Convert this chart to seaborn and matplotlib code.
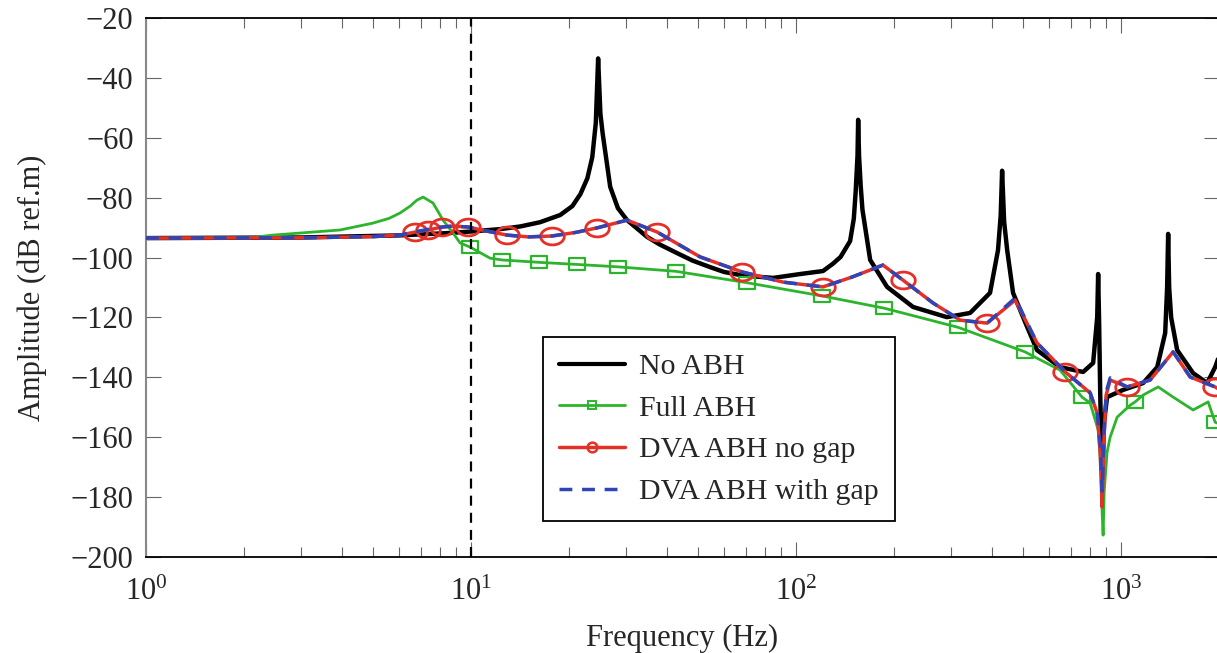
import matplotlib
matplotlib.use("Agg")
import matplotlib.pyplot as plt
import numpy as np
import seaborn as sns
from matplotlib.lines import Line2D
from matplotlib.path import Path
from matplotlib.ticker import LogLocator, NullFormatter

# --- data ---
freq_no_abh = [1, 3, 6, 8.6, 10, 12.3, 14.2, 16.3, 18.8, 20.5,
               21.7, 22.8, 23.6, 24.2, 24.6, 25.0, 25.4, 26.8, 28.3, 30.2,
               34.8, 38, 43, 48, 54.4, 60, 68.5, 85, 103, 121,
               130, 137, 146.6, 150.5, 152.5, 154.5, 155.2, 156.2, 158, 160,
               169, 190.5, 229, 291, 343, 395, 418, 426, 430.3, 436.5,
               446, 465, 514, 551, 649, 764, 820, 844, 849.6, 855.6,
               862, 868, 876, 886, 905, 1014, 1169, 1291, 1366, 1385,
               1395, 1405, 1425, 1487, 1665, 1839, 1946, 2000]
amp_no_abh = [-93.5, -93.3, -92.6, -91.8, -91.3, -90.5, -89.6, -88.2, -85.8, -82.8,
              -78.8, -73.5, -66.5, -55, -33.5, -52, -58.5, -76.4, -83.5, -87.5,
              -93.1, -95.6, -98.5, -101.0, -103.2, -104.8, -106, -106.8, -105.5, -104.5,
              -102, -99.8, -94.5, -87, -78, -66, -54, -66, -76, -84,
              -100.8, -109.8, -116.5, -119.9, -118.5, -111.8, -97.5, -86, -71, -88,
              -97.5, -111.8, -123.2, -130.9, -136.6, -138.2, -135.2, -119.9, -105.5, -122,
              -145, -160, -172, -155, -146.6, -144.2, -141.9, -136.6, -125.2, -110,
              -92.1, -110, -120, -130.9, -138.6, -141.9, -136.6, -133]

freq_full = [1, 2.09, 2.46, 3.95, 4.99, 5.6, 6.05, 6.5, 6.82, 7.12,
             7.64, 8.2, 8.8, 9.25, 9.93, 11.44, 12.45, 16.2, 21.2, 28.3,
             42.7, 70.6, 120, 186.5, 315, 506, 649, 758, 803, 850,
             866, 874, 880, 887, 905, 925, 972, 1066, 1104, 1169,
             1300, 1445, 1665, 1852, 1946, 2000]
amp_full = [-93.5, -93.4, -92.5, -90.8, -88.5, -86.9, -85.1, -82.8, -80.8, -79.8,
            -81.8, -87.5, -91.8, -95.1, -96.5, -100.2, -100.8, -101.6, -102.3, -103.1,
            -104.6, -108.4, -112.8, -116.9, -123.3, -131.5, -137.6, -146.6, -148.6, -157.6,
            -170, -185, -192.7, -178, -165, -160, -153.3, -149.3, -148.2, -145.9,
            -143.2, -146.6, -150.9, -148.2, -155, -155.5]
marks_full = [9.93, 12.45, 16.2, 21.2, 28.3, 42.7, 70.6, 120, 186.5, 315,
              506, 758, 1104, 1946]

freq_dva = [1, 3, 5, 6.05, 6.72, 7.37, 8.14, 8.8, 9.79, 11,
            12.9, 15, 17.75, 21, 24.4, 30.2, 37.4, 50.7, 68.2, 91.2,
            121, 148.7, 185, 213, 264, 320, 387, 472, 551, 673,
            803, 844, 862, 874, 886, 899, 925, 1043, 1228, 1445,
            1631, 1946, 2000]
amp_dva_no_gap = [-93.5, -93.4, -93.0, -92.5, -91.5, -90.8, -89.8, -89.5, -89.8, -91.0,
                  -92.5, -93.1, -92.8, -91.6, -90.1, -87.5, -91.5, -99.8, -104.8, -108.2,
                  -109.8, -106.5, -102.5, -107.5, -115.2, -120.9, -121.9, -114.2, -128.5, -138.2,
                  -145.2, -152, -165, -183.3, -160, -146, -140.9, -143.2, -140.9, -131.5,
                  -139.9, -143.2, -144]
amp_dva_gap = [-93.5, -93.4, -93.0, -92.5, -91.4, -90.6, -89.8, -89.5, -89.8, -91.0,
               -92.5, -93.1, -92.8, -91.6, -90.1, -87.5, -91.5, -99.8, -104.8, -108.2,
               -109.8, -106.5, -102.5, -107.5, -115.2, -120.9, -121.9, -113.5, -128.5, -138.2,
               -145.2, -152, -162, -178, -158, -145, -140.2, -143.2, -140.9, -131.5,
               -139.9, -143.2, -144]
marks_dva = [6.72, 7.37, 8.14, 9.79, 12.9, 17.75, 24.4, 37.4, 68.2, 121,
             213, 387, 673, 1043, 1946]

x_ticks = [1, 10, 100, 1000]
x_tick_labels = [r'$10^{0}$', r'$10^{1}$', r'$10^{2}$', r'$10^{3}$']
y_ticks = list(range(-200, -19, 20))
labels = ['No ABH', 'Full ABH', 'DVA ABH no gap', 'DVA ABH with gap']

sns.set_style("ticks")
plt.rcParams['font.family'] = ['Liberation Serif', 'DejaVu Serif']
plt.rcParams['mathtext.fontset'] = 'custom'
plt.rcParams['mathtext.rm'] = 'Liberation Serif'
plt.rcParams['mathtext.it'] = 'Liberation Serif:italic'
plt.rcParams['mathtext.bf'] = 'Liberation Serif:bold'

black, green, red, blue = '#000000', '#2cb52c', '#e53027', '#2e45b8'

# flattened marker shapes (the picture's markers are wider than tall)
t = np.linspace(0, 2 * np.pi, 40)
ellipse = Path(np.column_stack([1.4 * np.cos(t), np.sin(t)]), closed=True)
rect = Path([(-1.45, -1), (1.45, -1), (1.45, 1), (-1.45, 1), (-1.45, -1)], closed=True)

fig = plt.figure(figsize=(12.17, 6.53), dpi=100)
ax = fig.add_axes([146 / 1217, 96 / 653, 1073 / 1217, 539 / 653])
ax.set_xscale('log')

sns.lineplot(x=freq_no_abh, y=amp_no_abh, ax=ax, color=black, lw=3.2,
             estimator=None, sort=False, legend=False, zorder=2)
sns.lineplot(x=freq_full, y=amp_full, ax=ax, color=green, lw=2.0,
             estimator=None, sort=False, legend=False, zorder=3,
             marker=rect, markersize=12, markerfacecolor='none',
             markeredgecolor=green, markeredgewidth=1.6,
             markevery=[freq_full.index(f) for f in marks_full])
sns.lineplot(x=freq_dva, y=amp_dva_no_gap, ax=ax, color=red, lw=2.5,
             estimator=None, sort=False, legend=False, zorder=4,
             marker=ellipse, markersize=17, markerfacecolor='none',
             markeredgecolor=red, markeredgewidth=2.0,
             markevery=[freq_dva.index(f) for f in marks_dva])
sns.lineplot(x=freq_dva, y=amp_dva_gap, ax=ax, color=blue, lw=2.5,
             linestyle=(0, (3.7, 2.8)), estimator=None, sort=False,
             legend=False, zorder=5)
ax.axvline(10, color='black', lw=1.6, linestyle=(0, (4.5, 3.2)), zorder=6)

ax.set_xlim(1, 2000)
ax.set_ylim(-200, -20)
ax.set_xticks(x_ticks)
ax.set_xticklabels(x_tick_labels)
ax.xaxis.set_minor_locator(LogLocator(base=10, subs=np.arange(2, 10)))
ax.xaxis.set_minor_formatter(NullFormatter())
ax.set_yticks(y_ticks)
ax.tick_params(which='both', direction='in', top=True, right=True,
               color='#666666', width=0.8, labelsize=22)
ax.tick_params(axis='y', which='major', length=11, pad=9)
ax.tick_params(axis='x', which='major', length=11, pad=15)
ax.tick_params(which='minor', length=7)
for side in ['top', 'bottom', 'right']:
    ax.spines[side].set_color('black')
    ax.spines[side].set_linewidth(1.3)
ax.spines['left'].set_color('#888888')
ax.spines['left'].set_linewidth(1.5)

ax.set_xlabel('Frequency (Hz)', fontsize=22, labelpad=12)
ax.set_ylabel('Amplitude (dB ref.m)', fontsize=22, labelpad=17)

handles = [
    Line2D([], [], color=black, lw=3.0),
    Line2D([], [], color=green, lw=2.0, marker='s', markersize=6,
           markerfacecolor='none', markeredgewidth=1.4),
    Line2D([], [], color=red, lw=2.5, marker='o', markersize=7,
           markerfacecolor='none', markeredgewidth=1.8),
    Line2D([], [], color=blue, lw=2.5, linestyle=(0, (3.7, 2.8))),
]
leg = ax.legend(handles, labels, loc='upper left', bbox_to_anchor=(0.37, 0.408),
                fontsize=21.5, frameon=True, fancybox=False, framealpha=1,
                edgecolor='black', handlelength=2.2, handletextpad=0.45,
                labelspacing=0.49, borderpad=0.55, borderaxespad=0)
leg.get_frame().set_linewidth(1.3)

fig.savefig('out.png', dpi=100)
